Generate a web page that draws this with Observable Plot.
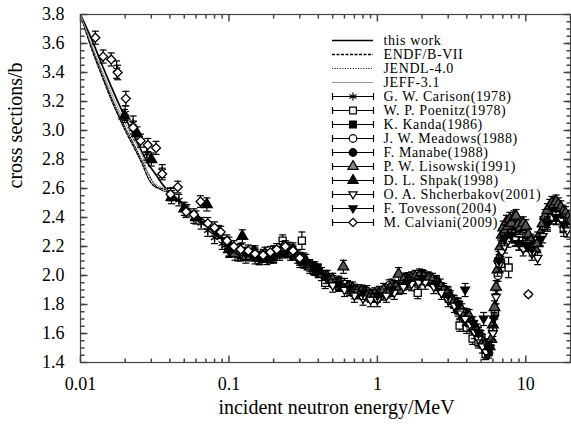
<!DOCTYPE html>
<html>
<head>
<meta charset="utf-8">
<script src="https://cdn.jsdelivr.net/npm/d3@7"></script>
<script src="https://cdn.jsdelivr.net/npm/@observablehq/plot@0.6"></script>
<style>
  body { margin: 0; background: #fff; }
  #wrap { position: relative; width: 571px; height: 427px; font-family: "Liberation Serif", serif; }
  #legend { position: absolute; left: 327px; top: 25px; }
</style>
</head>
<body>
<div id="wrap"><div id="main"></div><div id="legend"></div></div>
<script>
// ---------- axis text ----------
const xTitle = "incident neutron energy/MeV";
const yTitle = "cross sections/b";
const xTickValues = [0.01, 0.1, 1, 10];
const xTickLabels = ["0.01", "0.1", "1", "10"];
const xMinorTicks = [0.02,0.03,0.04,0.05,0.06,0.07,0.08,0.09,0.2,0.3,0.4,0.5,0.6,0.7,0.8,0.9,2,3,4,5,6,7,8,9,20];
const yTickValues = [1.4,1.6,1.8,2.0,2.2,2.4,2.6,2.8,3.0,3.2,3.4,3.6,3.8];
const yMinorTicks = d3.range(1.45, 3.8, 0.05);

// ---------- evaluated curves ----------
const curveE    = [0.01,0.012,0.014,0.016,0.018,0.02,0.023,0.026,0.029,0.032,0.035,0.04,0.05,0.06,0.07,0.085,0.1,0.15,0.2,0.3,0.5,0.8,1,1.5,2,3,4,5,5.5,6,6.5,7,8,10,12,15,20];
const thisWorkS = [3.80,3.62,3.45,3.31,3.19,3.09,2.96,2.85,2.76,2.70,2.64,2.57,2.49,2.42,2.37,2.29,2.22,2.14,2.14,2.10,1.96,1.87,1.86,1.93,1.98,1.86,1.72,1.56,1.50,1.62,1.98,2.24,2.33,2.28,2.20,2.45,2.36];
const endfS     = [3.80,3.55,3.37,3.22,3.10,3.00,2.88,2.77,2.66,2.61,2.60,2.58,2.47,2.40,2.34,2.27,2.20,2.14,2.13,2.10,1.96,1.87,1.86,1.93,1.98,1.86,1.72,1.56,1.50,1.62,1.98,2.24,2.33,2.28,2.20,2.45,2.36];
const jendlS    = [3.80,3.57,3.39,3.24,3.12,3.02,2.90,2.79,2.69,2.62,2.59,2.57,2.48,2.41,2.35,2.28,2.21,2.14,2.13,2.10,1.96,1.87,1.86,1.93,1.98,1.86,1.72,1.56,1.50,1.62,1.98,2.24,2.33,2.28,2.20,2.45,2.36];
const jeffS     = [3.80,3.58,3.41,3.27,3.15,3.05,2.93,2.83,2.68,2.63,2.61,2.58,2.49,2.42,2.36,2.28,2.21,2.14,2.13,2.10,1.96,1.87,1.86,1.93,1.98,1.86,1.72,1.56,1.50,1.62,1.98,2.24,2.33,2.28,2.20,2.45,2.36];

// ---------- experimental data ----------
const carisonE = [0.0175,0.020,0.0226,0.028,0.0355,0.0404,0.046,0.052,0.058,0.065,0.072,0.08,0.09,0.10,0.115,0.13,0.15,0.17,0.2,0.23,0.27,0.32,0.38,0.45,0.55,0.65,0.8,1.0,1.2,1.5,1.8,2.2,2.7,3.3,4.0,4.8];
const carisonS = [3.42,3.12,3.05,2.84,2.72,2.56,2.52,2.45,2.40,2.36,2.31,2.26,2.22,2.17,2.14,2.15,2.12,2.13,2.14,2.18,2.15,2.09,2.04,1.99,1.94,1.90,1.88,1.86,1.90,1.94,1.97,1.98,1.91,1.82,1.72,1.60];
const carisonD = [0.06,0.05,0.05,0.045,0.045,0.045,0.04,0.04,0.04,0.04,0.04,0.04,0.04,0.04,0.04,0.04,0.04,0.04,0.04,0.04,0.04,0.04,0.04,0.04,0.04,0.04,0.04,0.04,0.04,0.04,0.04,0.04,0.04,0.04,0.04,0.04];

const poenitzE = [0.12,0.16,0.2,0.23,0.27,0.31,0.37,0.445,0.55,0.7,0.9,1.1,1.4,1.87,2.4,3.0,3.58,4.0,4.38,4.8,5.36,5.6,6.2,6.8,7.66,8.5,10,12,14,16,18];
const poenitzS = [2.14,2.12,2.13,2.24,2.16,2.24,2.05,1.95,1.93,1.88,1.86,1.87,1.91,1.88,1.96,1.86,1.655,1.64,1.565,1.54,1.46,1.47,1.75,2.08,2.055,2.25,2.22,2.25,2.38,2.40,2.32];
const poenitzD = [0.04,0.04,0.04,0.04,0.04,0.06,0.04,0.04,0.04,0.04,0.04,0.04,0.04,0.04,0.04,0.04,0.04,0.04,0.04,0.04,0.04,0.04,0.05,0.05,0.07,0.05,0.05,0.05,0.05,0.05,0.05];

const kandaE = [0.15,0.22,0.35,0.5,0.75,1.0,1.3,1.7,2.2,2.8,3.5,4.2];
const kandaS = [2.14,2.16,2.07,1.96,1.88,1.86,1.92,1.97,1.97,1.89,1.76,1.67];
const kandaD = 0.04;

const meadowsE = [0.25,0.4,0.6,0.85,1.2,1.6,2.0,2.5,3.0,3.5,4.0,4.5,5.0,5.5,6.0,6.5,7.0,7.5,8.0,8.5,9.0];
const meadowsS = [2.19,2.04,1.94,1.89,1.93,1.98,2.00,1.96,1.88,1.80,1.73,1.65,1.58,1.52,1.62,2.00,2.22,2.28,2.32,2.29,2.26];
const meadowsD = 0.04;

const manabeE = [0.11,0.14,0.18,0.24,0.3,0.4,0.55,0.7,0.9];
const manabeS = [2.17,2.14,2.13,2.18,2.11,2.03,1.94,1.90,1.86];
const manabeD = 0.04;

const lisowskiE = [0.10,0.11,0.12,0.13,0.145,0.16,0.175,0.19,0.20,0.23,0.26,0.29,0.32,0.35,0.38,0.42,0.46,0.50,0.55,0.59,0.63,0.68,0.73,0.78,0.84,0.90,0.96,1.03,1.10,1.17,1.25,1.33,1.39,1.50,1.60,1.70,1.80,1.92,2.05,2.20,2.35,2.50,2.65,2.80,2.95,3.10,3.25,3.40,3.55,3.70,3.85,4.00,4.15,4.30,4.50,4.70,4.90,5.10,5.30,5.50,5.70,5.85,6.00,6.15,6.30,6.45,6.60,6.75,6.90,7.05,7.20,7.40,7.60,7.80,8.00,8.30,8.60,8.90,9.20,9.60,10.0,10.4,10.8,11.2,11.6,12.0,12.5,13.0,13.5,14.0,14.5,15.0,15.5,16.0,16.6,17.2,17.8,18.5,19.2,20.0];
const lisowskiS = [2.18,2.15,2.17,2.13,2.16,2.12,2.15,2.13,2.16,2.19,2.15,2.13,2.11,2.06,2.05,2.01,1.99,1.97,1.95,2.06,1.92,1.91,1.89,1.89,1.87,1.86,1.87,1.88,1.90,1.89,1.93,1.92,2.01,1.97,1.96,1.98,1.99,2.00,1.99,1.98,1.97,1.95,1.93,1.90,1.88,1.85,1.82,1.80,1.78,1.76,1.73,1.71,1.72,1.67,1.64,1.62,1.58,1.55,1.52,1.49,1.51,1.56,1.66,1.78,1.92,2.04,2.12,2.20,2.28,2.33,2.30,2.37,2.34,2.39,2.36,2.40,2.41,2.35,2.33,2.36,2.34,2.28,2.24,2.20,2.18,2.22,2.29,2.36,2.41,2.45,2.48,2.50,2.49,2.51,2.49,2.47,2.44,2.43,2.40,2.38];
const lisowskiD = 0.045;

const shpakE = [0.0198,0.024,0.030,0.041,0.050,0.060,0.071,0.085,0.10,0.123,0.15,0.18,0.22,0.27,0.33,0.40];
const shpakS = [3.10,2.98,2.80,2.54,2.46,2.40,2.49,2.30,2.22,2.27,2.16,2.12,2.15,2.18,2.10,2.03];
const shpakD = 0.045;

const shcherbakovE = [0.5,0.6,0.7,0.8,0.9,1.0,1.15,1.3,1.5,1.7,1.9,2.1,2.4,2.7,3.0,3.3,3.6,3.9,4.2,4.5,4.8,5.1,5.4,5.7,6.0,6.3,6.6,6.9,7.2,7.6,8.0,8.5,9.0,9.6,10.2,11,12,13,14,15,16,17.5,19];
const shcherbakovS = [1.93,1.90,1.86,1.84,1.83,1.83,1.86,1.88,1.92,1.94,1.95,1.95,1.92,1.88,1.83,1.79,1.75,1.70,1.66,1.61,1.56,1.51,1.47,1.50,1.60,1.85,2.07,2.16,2.20,2.24,2.27,2.25,2.22,2.18,2.22,2.15,2.12,2.27,2.35,2.40,2.42,2.38,2.31];
const shcherbakovD = 0.045;

const tovessonE = [0.1,0.13,0.16,0.2,0.25,0.3,0.37,0.45,0.55,0.65,0.8,1.0,1.25,1.6,2.0,2.5,3.0,3.5,3.9,4.4,4.8,5.2,5.6,6.1,6.6,7.2,8.0,9.0,10.0,11.0,12.5,14,16,18];
const tovessonS = [2.17,2.15,2.12,2.13,2.17,2.10,2.05,1.99,1.94,1.91,1.88,1.86,1.90,1.95,1.98,1.94,1.86,1.80,1.90,1.67,1.60,1.70,1.50,1.70,2.10,2.25,2.28,2.22,2.21,2.18,2.25,2.36,2.40,2.35];
const tovessonD = 0.045;

const calvianiE = [0.0126,0.0142,0.0161,0.0178,0.0202,0.0226,0.0254,0.0284,0.0323,0.0355,0.0404,0.0452,0.0515,0.058,0.0643,0.072,0.080,0.088,0.097,0.108,0.12,0.135,0.15,0.17,0.19,0.21,0.24,0.27,0.30,10.4];
const calvianiS = [3.64,3.51,3.49,3.40,3.22,3.02,2.93,2.90,2.88,2.70,2.56,2.61,2.44,2.42,2.51,2.36,2.33,2.30,2.24,2.20,2.18,2.17,2.15,2.14,2.16,2.18,2.20,2.17,2.12,1.87];
const calvianiD = [0.045,0.045,0.045,0.05,0.05,0.045,0.045,0.045,0.045,0.04,0.04,0.04,0.04,0.04,0.04,0.04,0.04,0.04,0.04,0.04,0.04,0.04,0.04,0.04,0.04,0.04,0.04,0.04,0.04,0.015];

// ---------- custom symbols ----------
const hCap = {draw(ctx) { ctx.moveTo(-3.5, 0); ctx.lineTo(3.5, 0); }};
const vCap = {draw(ctx) { ctx.moveTo(0, -3.5); ctx.lineTo(0, 3.5); }};
const tickUp = len => ({draw(ctx) { ctx.moveTo(0, 0); ctx.lineTo(0, -len); }});
const tickDown = len => ({draw(ctx) { ctx.moveTo(0, 0); ctx.lineTo(0, len); }});
const tickRight = len => ({draw(ctx) { ctx.moveTo(0, 0); ctx.lineTo(len, 0); }});
const tickLeft = len => ({draw(ctx) { ctx.moveTo(0, 0); ctx.lineTo(-len, 0); }});
const triDown = {draw(ctx, size) {
  const r = Math.sqrt(size / Math.PI) * 1.15;
  ctx.moveTo(0, r); ctx.lineTo(-r * 0.95, -r * 0.6); ctx.lineTo(r * 0.95, -r * 0.6); ctx.closePath();
}};

const curves = [
  {name: "this work", S: thisWorkS, stroke: "black", strokeWidth: 1.7, dash: null},
  {name: "ENDF/B-VII", S: endfS, stroke: "black", strokeWidth: 1.3, dash: "3,1.5"},
  {name: "JENDL-4.0", S: jendlS, stroke: "black", strokeWidth: 1.2, dash: "1,1.6"},
  {name: "JEFF-3.1", S: jeffS, stroke: "#999", strokeWidth: 1, dash: null}
];

const series = [
  {name: "G. W. Carison(1978)", E: carisonE, S: carisonS, D: carisonD, symbol: "asterisk", fill: "none"},
  {name: "W. P. Poenitz(1978)", E: poenitzE, S: poenitzS, D: poenitzD, symbol: "square", fill: "white"},
  {name: "K. Kanda(1986)", E: kandaE, S: kandaS, D: kandaD, symbol: "square", fill: "black"},
  {name: "J. W. Meadows(1988)", E: meadowsE, S: meadowsS, D: meadowsD, symbol: "circle", fill: "white"},
  {name: "F. Manabe(1988)", E: manabeE, S: manabeS, D: manabeD, symbol: "circle", fill: "black"},
  {name: "P. W. Lisowski(1991)", E: lisowskiE, S: lisowskiS, D: lisowskiD, symbol: "triangle", fill: "#555"},
  {name: "D. L. Shpak(1998)", E: shpakE, S: shpakS, D: shpakD, symbol: "triangle", fill: "black"},
  {name: "O. A. Shcherbakov(2001)", E: shcherbakovE, S: shcherbakovS, D: shcherbakovD, symbol: triDown, fill: "white"},
  {name: "F. Tovesson(2004)", E: tovessonE, S: tovessonS, D: tovessonD, symbol: triDown, fill: "black"},
  {name: "M. Calviani(2009)", E: calvianiE, S: calvianiS, D: calvianiD, symbol: "diamond2", fill: "white"}
];

const rowsOf = s => s.E.map((e, i) => ({E: e, S: s.S[i], D: Array.isArray(s.D) ? s.D[i] : s.D}));

const marks = [];
// minor & major ticks (inward, all four sides)
marks.push(Plot.dot(xMinorTicks, {x: d => d, frameAnchor: "bottom", symbol: tickUp(4), stroke: "#444", fill: "none"}));
marks.push(Plot.dot(xTickValues, {x: d => d, frameAnchor: "bottom", symbol: tickUp(7), stroke: "#444", fill: "none"}));
marks.push(Plot.dot(xMinorTicks, {x: d => d, frameAnchor: "top", symbol: tickDown(4), stroke: "#444", fill: "none"}));
marks.push(Plot.dot(xTickValues, {x: d => d, frameAnchor: "top", symbol: tickDown(7), stroke: "#444", fill: "none"}));
marks.push(Plot.dot(yMinorTicks, {y: d => d, frameAnchor: "left", symbol: tickRight(4), stroke: "#444", fill: "none"}));
marks.push(Plot.dot(yTickValues, {y: d => d, frameAnchor: "left", symbol: tickRight(7), stroke: "#444", fill: "none"}));
marks.push(Plot.dot(yMinorTicks, {y: d => d, frameAnchor: "right", symbol: tickLeft(4), stroke: "#444", fill: "none"}));
marks.push(Plot.dot(yTickValues, {y: d => d, frameAnchor: "right", symbol: tickLeft(7), stroke: "#444", fill: "none"}));

// curves
for (const c of curves) {
  marks.push(Plot.line(curveE.map((e, i) => ({E: e, S: c.S[i]})), {
    x: "E", y: "S", stroke: c.stroke, strokeWidth: c.strokeWidth, strokeDasharray: c.dash, clip: "frame", curve: "monotone-x"
  }));
}
// experimental series
for (const s of series) {
  const rows = rowsOf(s);
  marks.push(Plot.ruleX(rows, {x: "E", y1: d => d.S - d.D, y2: d => d.S + d.D, stroke: "black", strokeWidth: 1.2, clip: "frame"}));
  marks.push(Plot.dot(rows, {x: "E", y: d => d.S - d.D, symbol: hCap, stroke: "black", strokeWidth: 1.2, fill: "none", clip: "frame"}));
  marks.push(Plot.dot(rows, {x: "E", y: d => d.S + d.D, symbol: hCap, stroke: "black", strokeWidth: 1.2, fill: "none", clip: "frame"}));
  marks.push(Plot.dot(rows, {x: "E", y: "S", r: 4, symbol: s.symbol, fill: s.fill, stroke: "black", strokeWidth: 1.3, clip: "frame"}));
}
marks.push(Plot.frame({stroke: "#444", strokeWidth: 1.2}));
marks.push(Plot.axisX({ticks: xTickValues, tickFormat: d => xTickLabels[xTickValues.indexOf(d)], tickSize: 0, tickPadding: 15, label: null, fontSize: 18}));
marks.push(Plot.axisY({ticks: yTickValues, tickFormat: d3.format(".1f"), tickSize: 0, tickPadding: 16, label: null, fontSize: 18}));
marks.push(Plot.text([xTitle], {text: d => d, frameAnchor: "bottom", dx: 11, dy: 51, fontSize: 20}));
marks.push(Plot.text([yTitle], {text: d => d, frameAnchor: "left", dx: -65, rotate: -90, fontSize: 20}));

const chart = Plot.plot({
  width: 571, height: 427,
  marginLeft: 80, marginRight: 1, marginTop: 14, marginBottom: 65,
  x: {type: "log", domain: [0.01, 20]},
  y: {domain: [1.4, 3.8]},
  style: {fontFamily: "Liberation Serif, serif", fontSize: "18px", background: "white", color: "black"},
  marks
});
document.getElementById("main").appendChild(chart);

// ---------- legend (overlay plot) ----------
const legendLabels = curves.map(c => c.name).concat(series.map(s => s.name));
const lmarks = [];
for (const c of curves) {
  lmarks.push(Plot.ruleY([c.name], {y: d => d, x1: 0, x2: 1, stroke: c.stroke, strokeWidth: c.strokeWidth, strokeDasharray: c.dash}));
}
const seriesNames = series.map(s => s.name);
lmarks.push(Plot.ruleY(seriesNames, {y: d => d, x1: 0, x2: 1, stroke: "black", strokeWidth: 1.2}));
lmarks.push(Plot.dot(seriesNames, {x: 0, y: d => d, symbol: vCap, stroke: "black", strokeWidth: 1.2, fill: "none"}));
lmarks.push(Plot.dot(seriesNames, {x: 1, y: d => d, symbol: vCap, stroke: "black", strokeWidth: 1.2, fill: "none"}));
for (const s of series) {
  lmarks.push(Plot.dot([s.name], {x: 0.5, y: d => d, r: 3.8, symbol: s.symbol, fill: s.name.startsWith("P. W.") ? "#8a8a8a" : s.fill, stroke: "black", strokeWidth: 1.2}));
}
lmarks.push(Plot.text(legendLabels, {x: 1, y: d => d, text: d => d, dx: 10, textAnchor: "start", fontSize: 14}));

const legend = Plot.plot({
  width: 240, height: 211,
  marginLeft: 5, marginRight: 194, marginTop: 10, marginBottom: 10,
  x: {domain: [0, 1], axis: null},
  y: {type: "point", domain: legendLabels, padding: 0, axis: null},
  style: {fontFamily: "Liberation Serif, serif", background: "transparent", color: "black", overflow: "visible", letterSpacing: "0.6px"},
  marks: lmarks
});
document.getElementById("legend").appendChild(legend);
</script>
</body>
</html>
